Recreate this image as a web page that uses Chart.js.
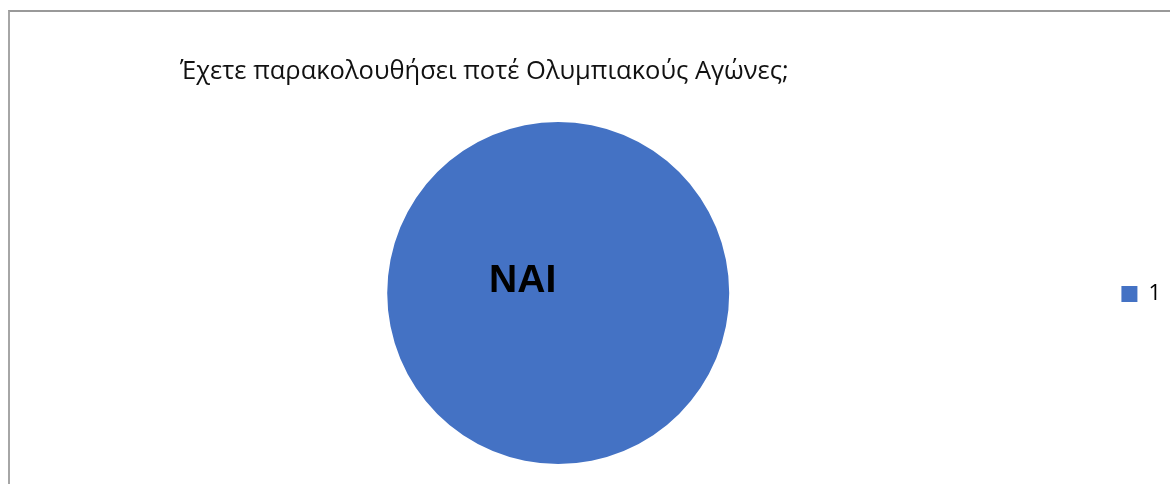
<!DOCTYPE html>
<html>
<head>
<meta charset="utf-8">
<script src="https://cdn.jsdelivr.net/npm/chart.js@4/dist/chart.umd.min.js"></script>
<style>
  html, body { margin: 0; padding: 0; background: #fff; overflow: hidden; }
  #wrap { position: relative; width: 1170px; height: 484px; }
  #frame {
    position: absolute; left: 8px; top: 10px; width: 1200px; height: 500px;
    border-left: 2px solid #a6a6a6; border-top: 2px solid #999;
  }
  canvas { position: absolute; left: 0; top: 0; }
</style>
</head>
<body>
<div id="wrap">
  <div id="frame"></div>
  <canvas id="olympicsChart" width="1170" height="484"></canvas>
</div>
<script>
const titleText = "Έχετε παρακολουθήσει ποτέ Ολυμπιακούς Αγώνες;";
const categories = ["1"];
const answers = [1];
const sliceLabels = ["ΝΑΙ"];
const sliceColors = ["#4472C4"];

// bold answer written on the slice
const sliceText = {
  id: "sliceText",
  afterDatasetsDraw(chart) {
    const { ctx } = chart;
    const meta = chart.getDatasetMeta(0);
    meta.data.forEach((arc, i) => {
      const r = arc.outerRadius;
      ctx.save();
      ctx.font = "bold 39px 'Liberation Sans', Arial, sans-serif";
      ctx.fillStyle = "#000";
      ctx.textAlign = "center";
      ctx.textBaseline = "middle";
      ctx.fillText(sliceLabels[i], arc.x - 0.208 * r, arc.y - 0.07 * r);
      ctx.restore();
    });
  },
};

const config = {
  type: "pie",
  data: {
    labels: categories,
    datasets: [
      {
        data: answers,
        backgroundColor: sliceColors,
        borderWidth: 0,
      },
    ],
  },
  options: {
    responsive: false,
    animation: false,
    layout: {
      padding: { left: 180, right: -1, top: 0, bottom: 20 },
    },
    plugins: {
      title: {
        display: true,
        text: titleText,
        align: "start",
        color: "#111",
        font: { family: "'Open Sans', sans-serif", size: 25.5, weight: "normal", lineHeight: 1.2 },
        padding: { top: 56.7, bottom: 34.7 },
      },
      legend: {
        position: "right",
        align: "center",
        // empty legend title only pushes the single entry down
        title: {
          display: true,
          text: "",
          font: { size: 10, lineHeight: 1 },
          padding: { top: 114, bottom: 0 },
        },
        labels: {
          boxWidth: 16,
          boxHeight: 16,
          padding: 185,
          color: "#000",
          font: { family: "'Open Sans', sans-serif", size: 22 },
        },
      },
      tooltip: { enabled: false },
    },
  },
  plugins: [sliceText],
};

new Chart(document.getElementById("olympicsChart"), config);
</script>
</body>
</html>
